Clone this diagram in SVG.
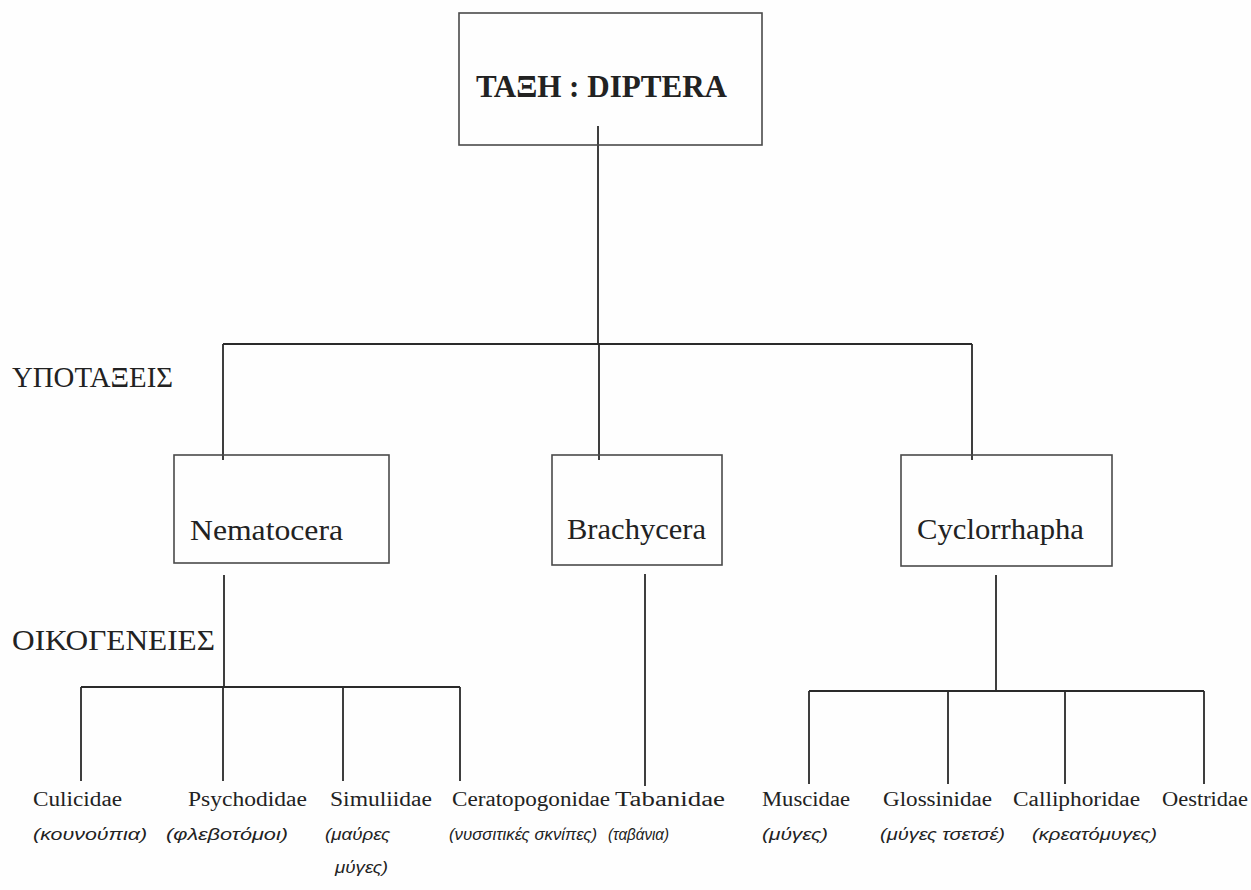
<svg xmlns="http://www.w3.org/2000/svg" width="1251" height="890" viewBox="0 0 1251 890">
<style>
.box{fill:none;stroke:#4a4a4a;stroke-width:1.6}
.ln{fill:none;stroke:#2a2a2a;stroke-width:1.8}
.t{font-family:"Liberation Serif","Times New Roman",serif;fill:#222}
.title{font-size:31px;font-weight:bold}
.node{font-size:30px}
.lvl{font-size:29px}
.fam{font-size:20px}
.com{font-family:"Liberation Sans",Arial,sans-serif;font-style:italic;font-size:17px;fill:#222}
</style>
<rect width="1251" height="890" fill="#fefefe"/>
<g id="connectors">
<path class="ln" d="M598 126V344M223 344H972M223 344V460M599 344V460M972 344V460"/>
<path class="ln" d="M224 575V687M81 687H460M81 687V781M223 687V781M343 687V781M460 687V781"/>
<path class="ln" d="M645 574V786"/>
<path class="ln" d="M996 575V691M809 691H1204M809 691V784M948 691V784M1065 691V784M1204 691V784"/>
</g>
<g id="diptera">
<rect class="box" x="459" y="13" width="303" height="132"/>
<text class="t title" x="476" y="97" textLength="251" lengthAdjust="spacingAndGlyphs">ΤΑΞΗ : DIPTERA</text>
</g>
<g id="label-ypotaxeis"><text class="t lvl" x="12" y="387" textLength="161" lengthAdjust="spacingAndGlyphs">ΥΠΟΤΑΞΕΙΣ</text></g>
<g id="label-oikogeneies"><text class="t lvl" x="12" y="650" textLength="203" lengthAdjust="spacingAndGlyphs">ΟΙΚΟΓΕΝΕΙΕΣ</text></g>
<g id="nematocera">
<rect class="box" x="174" y="455" width="215" height="108"/>
<text class="t node" x="190" y="540" textLength="153" lengthAdjust="spacingAndGlyphs">Nematocera</text>
</g>
<g id="brachycera">
<rect class="box" x="552" y="455" width="170" height="110"/>
<text class="t node" x="567" y="539" textLength="139" lengthAdjust="spacingAndGlyphs">Brachycera</text>
</g>
<g id="cyclorrhapha">
<rect class="box" x="901" y="455" width="211" height="111"/>
<text class="t node" x="917" y="539" textLength="167" lengthAdjust="spacingAndGlyphs">Cyclorrhapha</text>
</g>
<g id="culicidae">
<text class="t fam" x="33" y="806" textLength="89" lengthAdjust="spacingAndGlyphs">Culicidae</text>
<text class="com" x="33" y="840" textLength="114" lengthAdjust="spacingAndGlyphs">(κουνούπια)</text>
</g>
<g id="psychodidae">
<text class="t fam" x="188" y="806" textLength="119" lengthAdjust="spacingAndGlyphs">Psychodidae</text>
<text class="com" x="166" y="840" textLength="122" lengthAdjust="spacingAndGlyphs">(φλεβοτόμοι)</text>
</g>
<g id="simuliidae">
<text class="t fam" x="330" y="806" textLength="102" lengthAdjust="spacingAndGlyphs">Simuliidae</text>
<text class="com" x="325" y="840" textLength="65" lengthAdjust="spacingAndGlyphs">(μαύρες</text>
<text class="com" x="335" y="873" textLength="53" lengthAdjust="spacingAndGlyphs">μύγες)</text>
</g>
<g id="ceratopogonidae">
<text class="t fam" x="452" y="806" textLength="158" lengthAdjust="spacingAndGlyphs">Ceratopogonidae</text>
<text class="com" x="449" y="840" textLength="148" lengthAdjust="spacingAndGlyphs">(νυσσιτικές σκνίπες)</text>
</g>
<g id="tabanidae">
<text class="t fam" x="615" y="806" textLength="110" lengthAdjust="spacingAndGlyphs">Tabanidae</text>
<text class="com" x="608" y="840" textLength="61" lengthAdjust="spacingAndGlyphs">(ταβάνια)</text>
</g>
<g id="muscidae">
<text class="t fam" x="762" y="806" textLength="88" lengthAdjust="spacingAndGlyphs">Muscidae</text>
<text class="com" x="762" y="840" textLength="66" lengthAdjust="spacingAndGlyphs">(μύγες)</text>
</g>
<g id="glossinidae">
<text class="t fam" x="883" y="806" textLength="109" lengthAdjust="spacingAndGlyphs">Glossinidae</text>
<text class="com" x="880" y="840" textLength="125" lengthAdjust="spacingAndGlyphs">(μύγες τσετσέ)</text>
</g>
<g id="calliphoridae">
<text class="t fam" x="1013" y="806" textLength="127" lengthAdjust="spacingAndGlyphs">Calliphoridae</text>
<text class="com" x="1032" y="840" textLength="125" lengthAdjust="spacingAndGlyphs">(κρεατόμυγες)</text>
</g>
<g id="oestridae">
<text class="t fam" x="1162" y="806" textLength="86" lengthAdjust="spacingAndGlyphs">Oestridae</text>
</g>
</svg>
